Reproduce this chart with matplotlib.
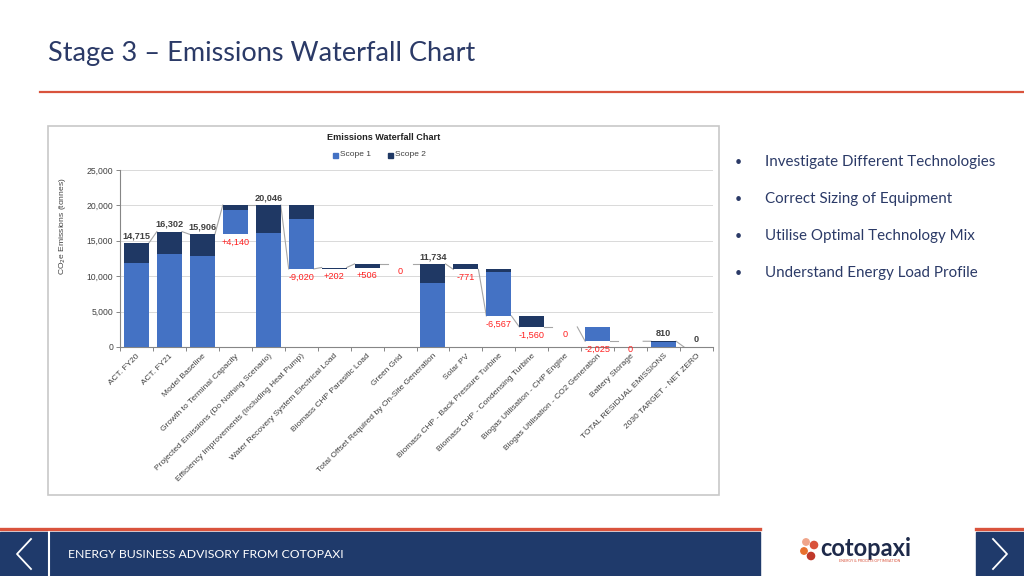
import matplotlib
matplotlib.use("Agg")
import matplotlib.pyplot as plt
from matplotlib.patches import Rectangle, Circle
from matplotlib.lines import Line2D
import numpy as np

# ---------------- data ----------------
categories = [
    "ACT. FY20", "ACT. FY21", "Model Baseline", "Growth to Terminal Capacity",
    "Projected Emissions (Do Nothing Scenario)",
    "Efficiency Improvements (Including Heat Pump)",
    "Water Recovery System Electrical Load", "Biomass CHP Parasitic Load",
    "Green Grid", "Total Offset Required by On-Site Generation", "Solar PV",
    "Biomass CHP - Back Pressure Turbine", "Biomass CHP - Condensing Turbine",
    "Biogas Utilisation - CHP Engine", "Biogas Utilisation - CO2 Generation",
    "Battery Storage", "TOTAL RESIDUAL EMISSIONS", "2030 TARGET - NET ZERO",
]
kind = ["total", "total", "total", "delta", "total", "delta", "delta", "delta",
        "delta", "total", "delta", "delta", "delta", "delta", "delta", "delta",
        "total", "total"]
scope1 = [11800, 13200, 12800, 3374, 16120, -7020, 0, 0, 0, 9000, 0, -6237,
          0, 0, -2025, 0, 737, 0]
scope2 = [2915, 3102, 3106, 766, 3926, -2000, 202, 506, 0, 2734, -771, -330,
          -1560, 0, 0, 0, 73, 0]
y_ticks = [0, 5000, 10000, 15000, 20000, 25000]
bullets = ["Investigate Different Technologies", "Correct Sizing of Equipment",
           "Utilise Optimal Technology Mix", "Understand Energy Load Profile"]

# ---------------- colours ----------------
C_S1 = "#4472C4"
C_S2 = "#1F3864"
C_RED = "#FF2020"
C_NAVY = "#1F3A6B"
C_TITLE = "#2B3A67"
C_ORANGE = "#D9533C"
C_TXT = "#404040"

W, H = 1024, 576
fig = plt.figure(figsize=(W / 100, H / 100), dpi=100)
fig.patch.set_facecolor("white")

# background axes in pixel coordinates
bg = fig.add_axes([0, 0, 1, 1], zorder=0)
bg.set_xlim(0, W)
bg.set_ylim(H, 0)
bg.axis("off")

# slide title
bg.text(48, 53, "Stage 3 \u2013 Emissions Waterfall Chart", fontsize=19.5,
        family="Lato", color=C_TITLE, va="center", ha="left")
bg.add_line(Line2D([40, W], [92, 92], color=C_ORANGE, lw=1.6))

# chart frame
bg.add_patch(Rectangle((48, 126), 671, 369, fill=False, ec="#C8C8C8", lw=1.2))
bg.text(384, 138, "Emissions Waterfall Chart", fontsize=6.6, weight="bold",
        family="Liberation Sans", color="#222222", ha="center", va="center")
# legend
lx = 333
bg.add_patch(Rectangle((lx, 152.5), 5, 5, color=C_S1))
bg.text(lx + 7, 155, "Scope 1", fontsize=6.0, family="Liberation Sans",
        color=C_TXT, va="center")
bg.add_patch(Rectangle((lx + 55, 152.5), 5, 5, color=C_S2))
bg.text(lx + 62, 155, "Scope 2", fontsize=6.0, family="Liberation Sans",
        color=C_TXT, va="center")

# bullets
for k, t in enumerate(bullets):
    y = 162 + 37 * k
    bg.text(735, y, "\u2022", fontsize=9, family="Lato", color=C_TITLE,
            va="center")
    bg.text(765, y, t, fontsize=10.9, family="Lato", color=C_TITLE,
            va="center")

# footer
bg.add_line(Line2D([0, 760], [528.5, 528.5], color=C_ORANGE, lw=2.4))
bg.add_patch(Rectangle((0, 532), 760, 44, color=C_NAVY))
bg.add_line(Line2D([49, 49], [532, 576], color="white", lw=1.5))
bg.add_line(Line2D([976, W], [528.5, 528.5], color=C_ORANGE, lw=2.4))
bg.add_patch(Rectangle((976, 532), 48, 44, color=C_NAVY))
bg.add_line(Line2D([31, 17, 31], [539, 554, 569], color="white", lw=1.3))
bg.add_line(Line2D([993, 1007, 993], [539, 554, 569], color="white", lw=1.3))
bg.text(68, 554, "ENERGY BUSINESS ADVISORY FROM COTOPAXI", fontsize=8.8,
        family="Lato", color="white", va="center")
# logo
for (cx, cy, r, c) in [(806, 542, 3.2, "#F0A58A"), (814, 545, 3.6, C_ORANGE),
                       (804, 551, 3.2, "#E8702E"), (811, 556, 3.6, "#C0392B")]:
    bg.add_patch(Circle((cx, cy), r, color=c))
bg.text(820, 548, "cotopaxi", fontsize=17, weight="bold", family="Lato",
        color="#1E2A4A", va="center")
bg.text(870, 561.5, "ENERGY & PROCESS OPTIMISATION", fontsize=2.6,
        family="Lato", color=C_ORANGE, va="center", ha="center")

# ---------------- chart ----------------
ax = fig.add_axes([120 / W, 1 - 347 / H, 593 / W, 177 / H], zorder=1)
ax.patch.set_alpha(0)
n = len(categories)
x = np.arange(n)
bw = 0.76

ends, bottoms, tops = [], [], []
level = 0
for i in range(n):
    tot = scope1[i] + scope2[i]
    if kind[i] == "total":
        start, end = 0, tot
    else:
        start, end = level, level + tot
    level = end
    ends.append(end)
    bottoms.append(min(start, end))
    tops.append(max(start, end))

s1h = [abs(v) for v in scope1]
s2h = [abs(v) for v in scope2]
ax.bar(x, s1h, bw, bottom=bottoms, color=C_S1, zorder=3)
ax.bar(x, s2h, bw, bottom=np.array(bottoms) + np.array(s1h), color=C_S2,
       zorder=3)

# connectors
for i in range(n - 1):
    ax.plot([i + bw / 2, i + 1 - bw / 2], [ends[i], ends[i + 1]],
            color="#A6A6A6", lw=0.8, zorder=2)

# labels
for i in range(n):
    tot = scope1[i] + scope2[i]
    if kind[i] == "total":
        ax.annotate(f"{tot:,}", (x[i], tops[i]), xytext=(0, 2),
                    textcoords="offset points", ha="center", va="bottom",
                    fontsize=6.6, weight="bold", color=C_TXT,
                    family="Liberation Sans", zorder=5)
    else:
        lab = f"+{tot:,}" if tot > 0 else f"{tot:,}"
        ax.annotate(lab, (x[i], bottoms[i]), xytext=(0, -2.5),
                    textcoords="offset points", ha="center", va="top",
                    fontsize=6.6, color=C_RED, family="Liberation Sans",
                    zorder=5, annotation_clip=False)

ax.set_xlim(-0.5, n - 0.5)
ax.set_ylim(0, 25000)
ax.set_yticks(y_ticks)
ax.set_yticklabels([f"{v:,}" for v in y_ticks], fontsize=6.2,
                   family="Liberation Sans", color=C_TXT)
ax.grid(axis="y", color="#D9D9D9", lw=0.7, zorder=0)
ax.set_axisbelow(True)
ax.set_xticks(x)
ax.set_xticklabels(categories, rotation=45, ha="right",
                   rotation_mode="anchor", fontsize=6.0,
                   family="Liberation Sans", color=C_TXT)
ax.tick_params(axis="x", length=0, pad=4)
ax.set_xticks(np.arange(-0.5, n, 1), minor=True)
ax.tick_params(axis="x", which="minor", length=3, color="#868686", width=0.7)
ax.tick_params(axis="y", length=3, color="#868686", width=0.7, pad=2)
for s in ["top", "right"]:
    ax.spines[s].set_visible(False)
for s in ["left", "bottom"]:
    ax.spines[s].set_color("#868686")
    ax.spines[s].set_linewidth(0.8)
ax.set_ylabel("CO$_2$e Emissions (tonnes)", fontsize=6.1,
              family="Liberation Sans", color=C_TXT)
ax.yaxis.set_label_coords(-0.088, 0.68)

fig.savefig("out.png", dpi=100)
